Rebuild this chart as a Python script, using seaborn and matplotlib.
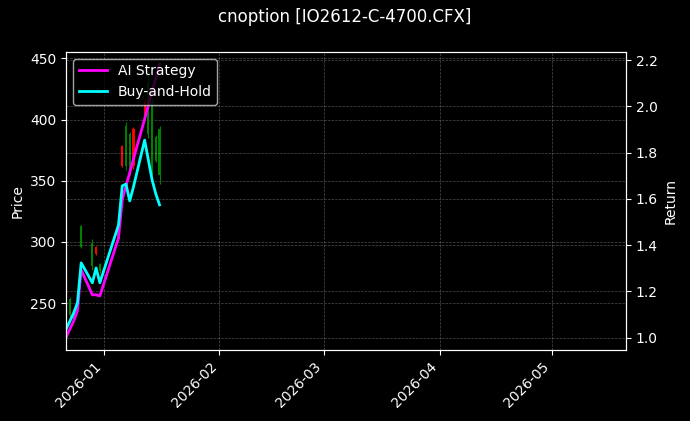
import pandas as pd
import numpy as np
import seaborn as sns
import matplotlib
matplotlib.use('Agg')
import matplotlib.pyplot as plt
import matplotlib.dates as mdates


#Data
dates = ['2025-12-22', '2025-12-23', '2025-12-24', '2025-12-25', '2025-12-26',
         '2025-12-29', '2025-12-30', '2025-12-31', '2026-01-05', '2026-01-06',
         '2026-01-07', '2026-01-08', '2026-01-09', '2026-01-12', '2026-01-13',
         '2026-01-14', '2026-01-15', '2026-01-16']
open_px = [224, 240, 237, 244, 296, 280, 296, 276, 305, 378, 362, 357, 392, 415, 388, 358, 366, 355]
high_px = [229, 255, 242, 250, 314, 302, 297, 283, 313, 379, 398, 390, 394, 418, 440, 418, 387, 395]
low_px = [222, 238, 236, 243, 295, 277, 289, 275, 303, 361, 359, 355, 360, 400, 385, 355, 365, 347]
close_px = [228, 253, 241, 249, 313, 299, 290, 282, 312, 362, 395, 388, 362, 403, 430, 415, 386, 392]

ai_return = [1.003, 1.038, 1.072, 1.116, 1.293, 1.185, 1.185, 1.180, 1.431, 1.595,
             1.656, 1.712, 1.772, 1.945, 2.006, 2.066, 2.122, 2.183]
bh_return = [1.038, 1.072, 1.107, 1.150, 1.323, 1.237, 1.301, 1.237, 1.487, 1.656,
             1.664, 1.591, 1.651, 1.854, 1.768, 1.682, 1.621, 1.574]

title = 'cnoption [IO2612-C-4700.CFX]'


df = pd.DataFrame({
    'Date': pd.to_datetime(dates),
    'Open': open_px,
    'High': high_px,
    'Low': low_px,
    'Close': close_px,
    'AI Strategy': ai_return,
    'Buy-and-Hold': bh_return,
})

plt.style.use('dark_background')
plt.rcParams['font.family'] = ['DejaVu Sans']

up = df['Close'] >= df['Open']
colors = np.where(up, 'green', 'red')

fig, ax = plt.subplots(figsize=(6.9, 4.21), dpi=100)
fig.subplots_adjust(left=0.096, right=0.9075, top=0.877, bottom=0.169)

#Candles
ax.vlines(df['Date'], df['Low'], df['High'], colors=colors, linewidth=0.8, zorder=2)
ax.bar(df['Date'], (df['Close'] - df['Open']).abs(),
       bottom=df[['Open', 'Close']].min(axis=1), width=0.6, color=colors, zorder=2)
ax.set_ylabel('Price')
ax.set_ylim(211.8, 455.4)
ax.grid(True, linestyle='--', linewidth=0.5, alpha=0.3)

#Returns
ax2 = ax.twinx()
sns.lineplot(data=df, x='Date', y='AI Strategy', ax=ax2, color='magenta',
             linewidth=2, label='AI Strategy')
sns.lineplot(data=df, x='Date', y='Buy-and-Hold', ax=ax2, color='cyan',
             linewidth=2, label='Buy-and-Hold')
ax2.set_ylim(0.947, 2.236)
ax2.set_ylabel('Return')
ax2.grid(True, linestyle='--', linewidth=0.5, alpha=0.3)
ax2.legend(loc='upper left')

ax.set_xlim(pd.Timestamp('2025-12-22'), pd.Timestamp('2026-05-21'))
ax.xaxis.set_major_locator(mdates.MonthLocator())
ax.xaxis.set_major_formatter(mdates.DateFormatter('%Y-%m'))
ax.set_xlabel('')
ax2.set_xlabel('')
plt.setp(ax.get_xticklabels(), rotation=45, ha='right')

fig.suptitle(title, fontsize=12)
fig.savefig('out.png', dpi=100)
